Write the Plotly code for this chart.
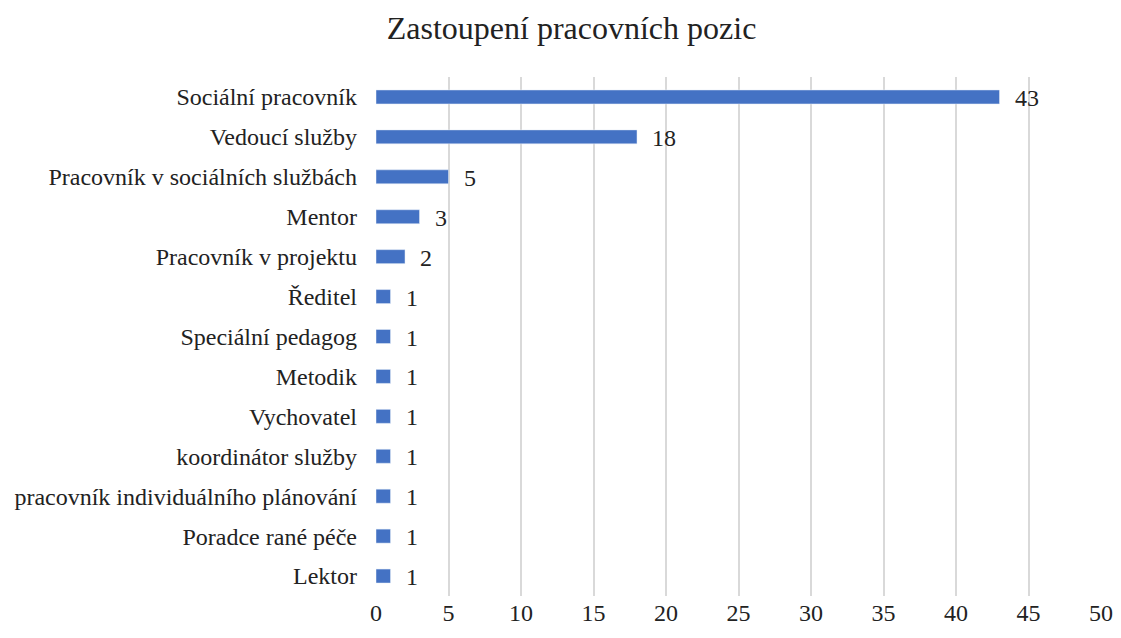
import plotly.graph_objects as go

positions = [
    "Sociální pracovník",
    "Vedoucí služby",
    "Pracovník v sociálních službách",
    "Mentor",
    "Pracovník v projektu",
    "Ředitel",
    "Speciální pedagog",
    "Metodik",
    "Vychovatel",
    "koordinátor služby",
    "pracovník individuálního plánování",
    "Poradce rané péče",
    "Lektor",
]
counts = [43, 18, 5, 3, 2, 1, 1, 1, 1, 1, 1, 1, 1]
x_ticks = [0, 5, 10, 15, 20, 25, 30, 35, 40, 45, 50]

font = "Liberation Serif"

fig = go.Figure()
fig.add_trace(go.Bar(
    x=counts,
    y=positions,
    orientation="h",
    width=0.35,
    marker=dict(color="#4472C4"),
    hoverinfo="x+y",
))

# popisky hodnot vpravo od sloupců
for p, c in zip(positions, counts):
    fig.add_annotation(
        x=c, y=p, text=str(c), showarrow=False,
        xanchor="left", xshift=13, yshift=-1,
        font=dict(family=font, size=24, color="#222222"),
    )

# stránka má okraj 8 px, proto je graf menší (aby nevznikl posuvník)
fig.update_layout(
    title=dict(
        text="Zastoupení pracovních pozic",
        x=0.51, xanchor="center", y=0.968, yanchor="middle",
        font=dict(family=font, size=32, color="#222222"),
    ),
    width=1105, height=622,
    margin=dict(l=368, r=12, t=69, b=34),
    paper_bgcolor="white",
    plot_bgcolor="white",
    showlegend=False,
    bargap=0.65,
    xaxis=dict(
        range=[0, 50],
        tickvals=x_ticks,
        showgrid=True,
        gridcolor="#D9D9D9",
        gridwidth=2,
        zeroline=False,
        showline=False,
        ticks="",
        automargin=False,
        ticklabelstandoff=0,
        tickfont=dict(family=font, size=24, color="#222222"),
    ),
    yaxis=dict(
        categoryorder="array",
        categoryarray=positions[::-1],
        showgrid=False,
        zeroline=False,
        showline=False,
        ticks="",
        automargin=False,
        ticklabelstandoff=18,
        tickfont=dict(family=font, size=24, color="#222222"),
    ),
)

fig.write_html("out.html")
